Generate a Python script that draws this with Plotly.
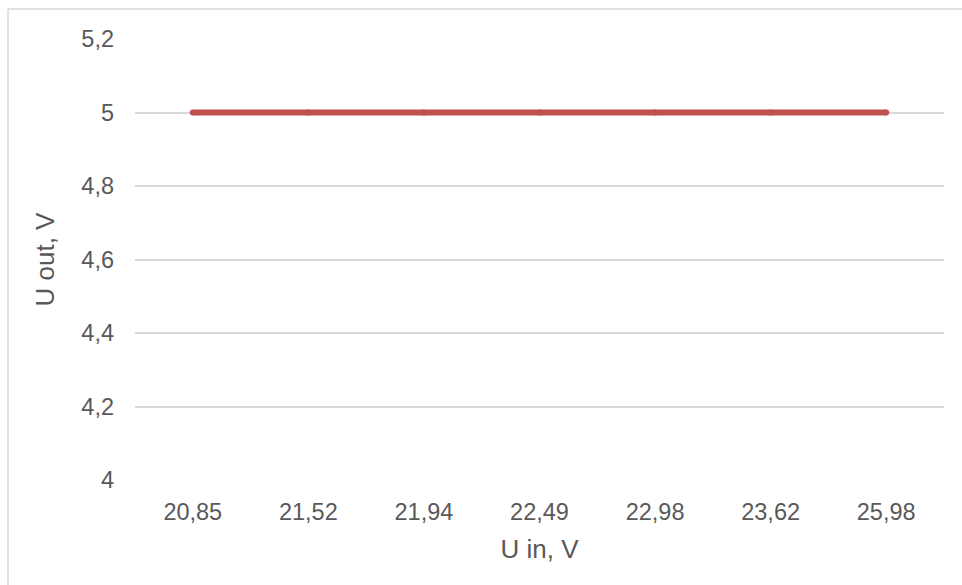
import plotly.graph_objects as go

# Input voltage steps (category labels) and measured output voltage
u_in_labels = ["20,85", "21,52", "21,94", "22,49", "22,98", "23,62", "25,98"]
u_out_values = [5, 5, 5, 5, 5, 5, 5]

y_ticks = [4, 4.2, 4.4, 4.6, 4.8, 5, 5.2]
y_tick_text = ["4", "4,2", "4,4", "4,6", "4,8", "5", "5,2"]

text_color = "#595959"
grid_color = "#D9D9D9"
font_family = "Liberation Sans, Arial, sans-serif"

fig = go.Figure()
fig.add_trace(go.Scatter(
    x=u_in_labels,
    y=u_out_values,
    mode="lines+markers",
    line=dict(color="#C0504D", width=6),
    marker=dict(color="#C0504D", size=6, line=dict(width=0)),
    hoverinfo="x+y",
))

# Chart-area frame: top and left edges
frame_left = -127 / 809
frame_top = 1 + 30 / 441
fig.update_layout(
    width=962,
    height=585,
    margin=dict(l=135, r=18, t=39, b=105),
    paper_bgcolor="white",
    plot_bgcolor="white",
    showlegend=False,
    font=dict(family=font_family, color=text_color, size=23.5),
    shapes=[
        dict(type="line", xref="paper", yref="paper",
             x0=frame_left, x1=1.5, y0=frame_top, y1=frame_top,
             line=dict(color="#D9D9D9", width=1.5), layer="below"),
        dict(type="line", xref="paper", yref="paper",
             x0=frame_left, x1=frame_left, y0=frame_top, y1=-1.0,
             line=dict(color="#D9D9D9", width=1.5), layer="below"),
    ],
)

fig.update_xaxes(
    type="category",
    range=[-0.5, 6.5],
    showgrid=False,
    showline=False,
    zeroline=False,
    ticks="",
    ticklabelstandoff=15,
    tickfont=dict(size=23.5, color=text_color),
    title=dict(text="U in, V", font=dict(size=26, color=text_color), standoff=16),
)

fig.update_yaxes(
    range=[4, 5.2],
    tickvals=y_ticks,
    ticktext=y_tick_text,
    showgrid=True,
    gridcolor=grid_color,
    gridwidth=1.5,
    showline=False,
    zeroline=False,
    ticks="",
    ticklabelstandoff=20,
    tickfont=dict(size=23.5, color=text_color),
    title=dict(text="U out, V", font=dict(size=26, color=text_color), standoff=19),
)

fig.write_html("out.html")
